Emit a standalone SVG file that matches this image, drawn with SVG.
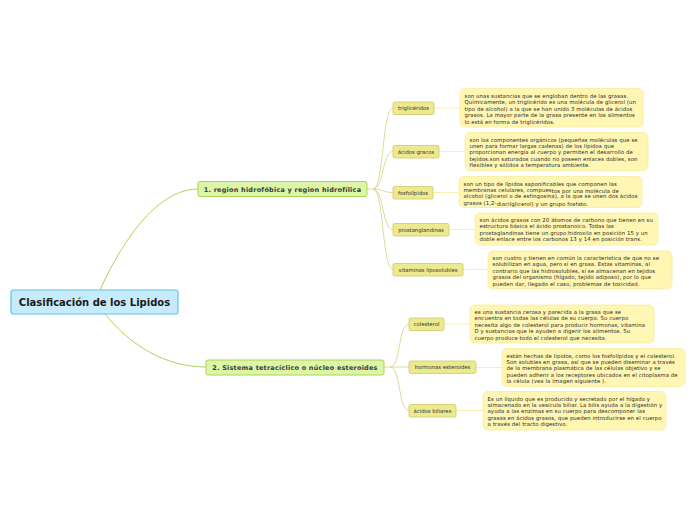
<svg xmlns="http://www.w3.org/2000/svg" width="696" height="520" viewBox="0 0 696 520">
<style>
text{font-family:"DejaVu Sans","Verdana",sans-serif;fill:#333}
.root rect{fill:#c7ebfb;stroke:#5ec4ee;stroke-width:1.2}
.root text{font-size:10px;font-weight:bold;fill:#1a1a1a}
.main rect{fill:#dcf5a6;stroke:#a9d456;stroke-width:1}
.main text{font-size:6.5px;font-weight:bold;fill:#3a3a3a;letter-spacing:0.22px}
.sub rect{fill:#ece98f;stroke:#cfc96a;stroke-width:0.8}
.sub text{font-size:5.3px}
.desc rect{fill:#fff6b3;stroke:#f6ec9c;stroke-width:0.8}
.desc text{font-size:5.35px;fill:#2a2a2a;letter-spacing:0.1px}
.c1{fill:none;stroke:#a9c94c;stroke-width:0.9}
.c2{fill:none;stroke:#ddd58e;stroke-width:0.9}
.c3{fill:none;stroke:#f5ecaa;stroke-width:0.9}
</style>
<rect width="696" height="520" fill="#fff"/>
<g id="connectors">
<path class="c1" d="M100,290 C125,235 160,189 198,189"/>
<path class="c1" d="M105,314 C130,345 165,367 206,367"/>
<path class="c2" d="M367,189 H373"/>
<path class="c2" d="M373,189 C384,189 382,108 393,108"/>
<path class="c2" d="M373,189 C384,189 382,151.5 393,151.5"/>
<path class="c2" d="M373,189 C384,189 382,192.5 393,192.5"/>
<path class="c2" d="M373,189 C384,189 382,229.5 393,229.5"/>
<path class="c2" d="M373,189 C384,189 382,269.5 393,269.5"/>
<path class="c2" d="M384,367 H390"/>
<path class="c2" d="M390,367 C401,367 398,324 409,324"/>
<path class="c2" d="M390,367 H409"/>
<path class="c2" d="M390,367 C401,367 398,410.5 409,410.5"/>
<path class="c3" d="M434,108 H460"/>
<path class="c3" d="M439,151.5 H465"/>
<path class="c3" d="M433,192.5 H459"/>
<path class="c3" d="M449,229.5 H475"/>
<path class="c3" d="M463,269.5 H488"/>
<path class="c3" d="M444,324 H470"/>
<path class="c3" d="M476,367.5 H502"/>
<path class="c3" d="M456,410.5 H483"/>
</g>
<g id="root" class="root"><rect x="11" y="290" width="167" height="24" rx="2.5"/><text x="94.5" y="305.6" text-anchor="middle">Clasificación de los Lipidos</text></g>
<g id="n1" class="main"><rect x="198" y="181.5" width="169" height="15" rx="2"/><text x="282.5" y="191.6" text-anchor="middle">1. region hidrofóbica y region hidrofílica</text></g>
<g id="n2" class="main"><rect x="206" y="360" width="178" height="15" rx="2"/><text x="295" y="370.1" text-anchor="middle">2. Sistema tetracíclico o núcleo esteroides</text></g>

<g id="s1" class="sub"><rect x="393" y="102" width="41" height="12.5" rx="1.5"/><text x="413.5" y="110.2" text-anchor="middle">triglicéridos</text></g>
<g id="s2" class="sub"><rect x="393" y="145.5" width="46" height="12.5" rx="1.5"/><text x="416" y="153.7" text-anchor="middle">ácidos gracos</text></g>
<g id="s3" class="sub"><rect x="393" y="186.5" width="40" height="12.5" rx="1.5"/><text x="413" y="194.7" text-anchor="middle">fosfolípidos</text></g>
<g id="s4" class="sub"><rect x="393" y="223.5" width="56" height="12.5" rx="1.5"/><text x="421" y="231.7" text-anchor="middle">prostanglandinas</text></g>
<g id="s5" class="sub"><rect x="393" y="263.5" width="70" height="12.5" rx="1.5"/><text x="428" y="271.7" text-anchor="middle">vitaminas liposolubles</text></g>
<g id="s6" class="sub"><rect x="409" y="318" width="35" height="12.5" rx="1.5"/><text x="426.5" y="326.2" text-anchor="middle">colesterol</text></g>
<g id="s7" class="sub"><rect x="409" y="361" width="67" height="12.5" rx="1.5"/><text x="442.5" y="369.2" text-anchor="middle">hormonas esteroides</text></g>
<g id="s8" class="sub"><rect x="409" y="404.5" width="47" height="12.5" rx="1.5"/><text x="432.5" y="412.7" text-anchor="middle">ácidos biliares</text></g>

<g id="d1" class="desc"><rect x="460" y="88.5" width="183" height="38.5" rx="5"/>
<text x="464.5" y="98"><tspan x="464.5">son unas sustancias que se engloban dentro de las grasas.</tspan><tspan x="464.5" dy="6.4">Químicamente, un triglicérido es una molécula de glicerol (un</tspan><tspan x="464.5" dy="6.4">tipo de alcohol) a la que se han unido 3 moléculas de ácidos</tspan><tspan x="464.5" dy="6.4">grasos. La mayor parte de la grasa presente en los alimentos</tspan><tspan x="464.5" dy="6.4">lo está en forma de triglicéridos.</tspan></text></g>
<g id="d2" class="desc"><rect x="465" y="132.5" width="183" height="38" rx="5"/>
<text x="469.5" y="141.5"><tspan x="469.5">son los componentes orgánicos (pequeñas moléculas que se</tspan><tspan x="469.5" dy="6.4">unen para formar largas cadenas) de los lípidos que</tspan><tspan x="469.5" dy="6.4">proporcionan energía al cuerpo y permiten el desarrollo de</tspan><tspan x="469.5" dy="6.4">tejidos.son saturados cuando no poseen enlaces dobles, son</tspan><tspan x="469.5" dy="6.4">flexibles y sólidos a temperatura ambiente.</tspan></text></g>
<g id="d3" class="desc"><rect x="459" y="176.5" width="183" height="31" rx="5"/>
<text x="463.5" y="185.5"><tspan x="463.5">son un tipo de lípidos saponificables que componen las</tspan><tspan x="463.5" dy="6.4">membranas celulares, compues</tspan><tspan dy="1.2">tos por una molécula de</tspan><tspan x="463.5" dy="5.2">alcohol (glicerol o de esfingosina), a la que se unen dos ácidos</tspan><tspan x="463.5" dy="6.4">grasos (1,2-</tspan><tspan dy="1.2">diacilglicerol) y un grupo fosfato.</tspan></text></g>
<g id="d4" class="desc"><rect x="475" y="213" width="183" height="32" rx="5"/>
<text x="479.5" y="222"><tspan x="479.5">son ácidos grasos con 20 átomos de carbono que tienen en su</tspan><tspan x="479.5" dy="6.4">estructura básica el ácido prostanoico. Todas las</tspan><tspan x="479.5" dy="6.4">prostaglandinas tiene un grupo hidroxilo en posición 15 y un</tspan><tspan x="479.5" dy="6.4">doble enlace entre los carbonos 13 y 14 en posición trans.</tspan></text></g>
<g id="d5" class="desc"><rect x="488" y="251" width="184" height="38" rx="5"/>
<text x="492.5" y="260"><tspan x="492.5">son cuatro y tienen en común la característica de que no se</tspan><tspan x="492.5" dy="6.4">solubilizan en agua, pero sí en grasa. Estas vitaminas, al</tspan><tspan x="492.5" dy="6.4">contrario que las hidrosolubles, sí se almacenan en tejidos</tspan><tspan x="492.5" dy="6.4">grasos del organismo (hígado, tejido adiposo), por lo que</tspan><tspan x="492.5" dy="6.4">pueden dar, llegado el caso, problemas de toxicidad.</tspan></text></g>
<g id="d6" class="desc"><rect x="470" y="305" width="184" height="38" rx="5"/>
<text x="474.5" y="314"><tspan x="474.5">es una sustancia cerosa y parecida a la grasa que se</tspan><tspan x="474.5" dy="6.4">encuentra en todas las células de su cuerpo. Su cuerpo</tspan><tspan x="474.5" dy="6.4">necesita algo de colesterol para producir hormonas, vitamina</tspan><tspan x="474.5" dy="6.4">D y sustancias que le ayuden a digerir los alimentos. Su</tspan><tspan x="474.5" dy="6.4">cuerpo produce todo el colesterol que necesita.</tspan></text></g>
<g id="d7" class="desc"><rect x="502" y="348.5" width="183" height="38" rx="5"/>
<text x="506.5" y="357.5"><tspan x="506.5">están hechas de lípidos, como los fosfolípidos y el colesterol.</tspan><tspan x="506.5" dy="6.4">Son solubles en grasa, así que se pueden diseminar a través</tspan><tspan x="506.5" dy="6.4">de la membrana plasmática de las células objetivo y se</tspan><tspan x="506.5" dy="6.4">pueden adherir a los receptores ubicados en el citoplasma de</tspan><tspan x="506.5" dy="6.4">la célula (vea la Imagen siguiente ).</tspan></text></g>
<g id="d8" class="desc"><rect x="483" y="391.5" width="183" height="38.5" rx="5"/>
<text x="487.5" y="400.5"><tspan x="487.5">Es un líquido que es producido y secretado por el hígado y</tspan><tspan x="487.5" dy="6.4">almacenado en la vesícula biliar. La bilis ayuda a la digestión y</tspan><tspan x="487.5" dy="6.4">ayuda a las enzimas en su cuerpo para descomponer las</tspan><tspan x="487.5" dy="6.4">grasas en ácidos grasos, que pueden introducirse en el cuerpo</tspan><tspan x="487.5" dy="6.4">a través del tracto digestivo.</tspan></text></g>
</svg>
